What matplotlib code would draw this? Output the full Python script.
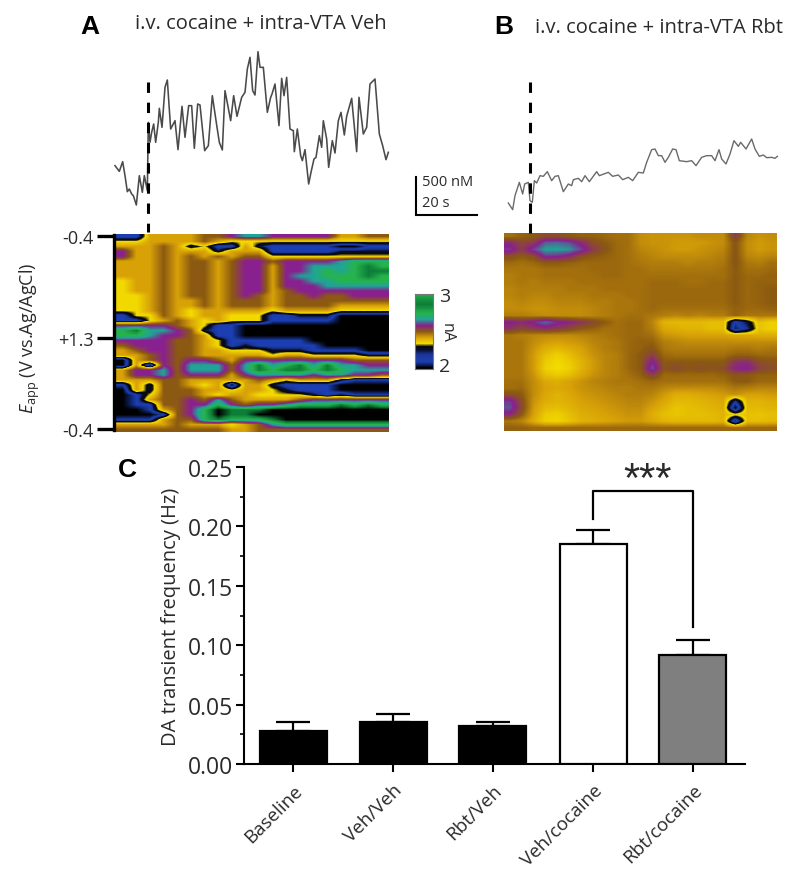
import numpy as np
import matplotlib
matplotlib.use("Agg")
import matplotlib.pyplot as plt
from matplotlib.colors import LinearSegmentedColormap

plt.rcParams['font.family'] = ['Open Sans', 'DejaVu Sans']
plt.rcParams['mathtext.fontset'] = 'custom'
plt.rcParams['mathtext.rm'] = 'Open Sans'
plt.rcParams['mathtext.it'] = 'Open Sans:italic'

W, H = 800, 878
TEXT = '#2a2a2a'

# ---------- bar panel ----------
categories = ['Baseline', 'Veh/Veh', 'Rbt/Veh', 'Veh/cocaine', 'Rbt/cocaine']
means = [0.028, 0.035, 0.032, 0.185, 0.092]
sems = [0.007, 0.007, 0.003, 0.012, 0.012]
bar_colors = ['black', 'black', 'black', 'white', '#7f7f7f']
y_ticks = [0.00, 0.05, 0.10, 0.15, 0.20, 0.25]

# ---------- voltammetric current traces (time, concentration readings) ----------
trace_a_x = [165,178,188,195,202,208,215,220,229,238,247,253,262,265,270,275,281,287,295,298,306,315,322,332,345,354,366,375,386,395,403,413,420,434,445,457,470,478,487,495,512,521,531,545,555,562,570,578,585,594,600,610,622,632,636,645,657,665,672,680,690,700,703,712,722,727,735,746,753,762,768,778,785,790,800,806,817,825,835,843,853,860,875,890,897,910,920,930,945,958,968,978,985]
trace_a_y = [500,517,488,530,578,570,585,590,618,530,580,530,575,370,430,400,375,430,370,328,385,265,243,390,365,452,322,415,320,320,448,315,318,455,440,290,378,430,453,275,365,290,352,295,280,210,175,275,288,158,205,205,340,295,285,255,380,238,290,235,390,395,458,390,470,485,452,555,520,480,475,410,445,365,420,505,425,462,365,340,408,352,298,458,295,405,385,255,240,405,440,482,460]
trace_b_x = [55,68,75,88,98,104,115,120,127,133,140,150,160,172,185,195,205,220,235,245,250,265,275,285,298,320,328,355,368,385,398,415,428,445,460,470,485,495,505,515,525,535,548,558,568,590,605,618,635,650,665,675,687,695,708,720,732,745,752,768,785,795,808,820,830,845,855,862]
trace_b_y = [432,452,410,370,405,375,370,425,430,365,372,350,352,338,365,352,350,398,375,380,362,358,368,350,368,338,350,340,352,348,362,355,365,340,342,310,272,270,290,290,310,295,270,272,305,308,305,320,295,290,290,305,272,300,315,285,245,262,250,270,240,270,292,288,296,295,298,292]

# ---------- colour plots, levels on the colour scale ----------
heat_a = [
 [1,1,4,4,4,4,5,5,6,7,7,6,6,6,6,6,4,4,5,5],
 [3,3,4,4,4,4,5,4,3,3,3,3,3,3,3,3,3,3,3,3],
 [4,4,4,5,4,2,3,1,1,4,2,1,1,1,1,1,0,0,1,1],
 [6,4,4,5,4,4,4,2,4,4,4,1,1,1,1,1,2,2,2,2],
 [6,4,4,5,4,5,4,5,4,5,5,3,3,3,3,3,3,3,3,3],
 [4,4,4,5,4,5,5,4,5,6,6,5,6,6,6,6,7,8,8,8],
 [4,4,4,5,4,5,5,4,5,6,6,4,6,6,7,7,7,8,9,8],
 [4,4,4,5,4,5,5,4,5,6,6,4,6,6,7,8,7,8,9,9],
 [4,4,4,5,4,5,5,4,5,6,6,4,6,7,7,8,8,8,9,8],
 [3,4,4,5,4,5,5,4,5,6,6,4,6,6,7,7,8,8,8,8],
 [3,4,4,5,4,5,5,4,5,6,6,4,6,6,6,7,7,7,7,7],
 [3,4,4,5,4,5,5,4,5,6,6,4,5,6,6,6,6,6,6,6],
 [3,3,4,5,4,5,5,4,5,6,5,4,5,5,6,5,5,6,6,6],
 [3,3,4,5,4,4,5,4,5,5,5,4,5,5,5,5,5,5,5,5],
 [3,3,4,5,4,4,5,4,5,5,5,4,5,5,5,5,4,4,4,4],
 [3,3,4,5,4,3,4,4,4,4,4,3,4,4,4,4,3,3,3,3],
 [1,3,3,5,4,3,4,4,3,3,3,1,1,2,2,2,0,0,0,0],
 [1,1,3,4,5,4,3,4,3,3,3,1,1,1,1,1,0,0,0,0],
 [6,6,6,6,5,4,3,1,1,0,0,0,0,0,0,0,0,0,0,0],
 [8,9,7,7,6,5,2,1,1,0,0,0,0,0,0,0,0,0,0,0],
 [8,8,7,6,6,5,4,1,1,0,0,0,0,0,0,0,0,0,0,0],
 [6,6,6,6,5,5,4,3,1,1,1,1,1,1,0,0,0,0,0,0],
 [5,6,6,6,5,5,4,3,1,2,1,1,1,1,1,0,0,0,0,0],
 [4,5,6,6,5,5,4,4,3,3,3,2,2,2,1,1,1,1,0,0],
 [4,4,5,6,5,5,4,4,4,4,4,3,4,4,3,3,3,3,2,2],
 [0,4,5,6,5,6,6,5,4,6,6,6,6,6,6,6,6,5,5,5],
 [0,4,0,6,5,7,7,7,5,7,9,7,8,9,7,9,7,7,6,6],
 [4,6,6,7,5,7,7,7,5,7,9,8,9,9,8,9,8,7,7,7],
 [4,6,6,7,5,6,6,6,4,6,7,7,7,7,6,7,7,6,6,5],
 [4,4,4,5,5,4,4,4,4,4,5,4,3,4,4,4,2,1,1,1],
 [1,4,2,5,5,4,3,4,0,4,4,2,1,1,1,1,0,0,0,0],
 [0,4,2,5,5,5,4,4,3,4,4,3,2,1,1,1,0,0,0,0],
 [0,1,3,5,5,5,4,3,4,4,3,3,3,3,2,1,2,1,1,1],
 [0,1,4,5,5,6,5,7,5,4,4,4,4,5,6,6,6,6,6,6],
 [0,1,1,5,5,6,6,8,6,5,6,6,7,8,8,8,9,8,9,8],
 [0,0,1,4,5,6,8,10,9,9,9,10,10,10,10,10,10,10,10,10],
 [0,0,0,1,5,6,8,10,9,9,10,10,10,10,10,10,10,10,10,10],
 [1,1,1,4,5,5,8,9,8,8,8,9,10,10,10,10,10,10,10,10],
 [4,4,4,4,5,4,4,4,3,4,5,7,8,8,8,8,8,8,8,8],
 [5,5,5,5,5,5,5,5,4,4,5,5,5,5,5,5,5,5,5,5],
]
heat_b = [
 [4.7,4.9,5,5.2,5.2,5.0,4.9,4.9,4.8,4.7,4.7,4.3,4.2,4.2,4.2,4.2,4.3,4.3,4.3,5.5,4.4,4.2,4.3],
 [5.8,5.3,5.5,6.5,6.6,6.4,5.8,5.2,5,4.8,4.7,4.3,4.2,4.2,4.1,4.1,4.1,4.2,4.3,5.1,4.3,4.1,4.2],
 [6.2,5.5,6.3,7,7,6.9,6.3,5.5,5.1,4.8,4.7,4.4,4.3,4.2,4.1,4.1,4.2,4.3,4.4,5.1,4.3,4.1,4.2],
 [5.2,5,5.2,6.2,6.1,5.8,5.2,5,4.9,4.8,4.7,4.5,4.4,4.3,4.3,4.3,4.3,4.4,4.5,5.1,4.4,4.3,4.4],
 [4.8,4.7,4.8,5,5,4.9,4.8,4.8,4.8,4.8,4.7,4.6,4.5,4.5,4.5,4.4,4.5,4.5,4.6,5.1,4.6,4.5,4.7],
 [4.6,4.6,4.6,4.7,4.7,4.7,4.7,4.8,4.8,4.8,4.7,4.7,4.6,4.6,4.6,4.6,4.6,4.6,4.7,5,4.7,4.7,4.8],
 [4.5,4.6,4.6,4.7,4.7,4.7,4.7,4.7,4.8,4.8,4.7,4.7,4.7,4.7,4.7,4.7,4.7,4.7,4.7,5,4.8,4.8,4.9],
 [4.5,4.6,4.5,4.6,4.6,4.6,4.7,4.7,4.7,4.7,4.7,4.7,4.8,4.8,4.8,4.7,4.7,4.8,4.8,5,4.8,4.9,4.9],
 [4.4,4.5,4.5,4.5,4.5,4.6,4.6,4.6,4.7,4.7,4.7,4.7,4.8,4.8,4.8,4.8,4.8,4.8,4.8,5,4.8,4.9,5],
 [4.4,4.5,4.4,4.4,4.5,4.5,4.5,4.6,4.6,4.6,4.7,4.7,4.8,4.8,4.8,4.8,4.8,4.8,4.8,5,4.8,4.9,5],
 [4.3,4.4,4.3,4.3,4.4,4.4,4.4,4.5,4.5,4.6,4.6,4.7,4.8,4.8,4.8,4.8,4.8,4.8,4.8,5,4.8,4.9,5],
 [4.3,4.3,4.2,4.2,4.3,4.3,4.3,4.4,4.5,4.6,4.6,4.7,4.8,4.7,4.7,4.7,4.7,4.7,4.7,4.9,4.8,4.8,4.9],
 [4.5,4.5,4.4,4.3,4.3,4.3,4.3,4.4,4.5,4.6,4.7,4.7,4.6,4.5,4.4,4.5,4.4,4.5,4.5,4.9,4.6,4.6,4.6],
 [6,5.8,6.1,6.6,6.1,5.9,5.6,5.3,5,4.7,4.8,4.8,4.4,3.7,3.6,3.6,3.6,3.5,3.5,1,2,3.5,3.2],
 [5.6,5.3,5.5,5.7,5.5,5.3,5,4.9,4.7,4.7,4.8,4.8,4.5,3.9,3.8,3.7,3.7,3.5,3.5,0.5,1.5,3.4,3.2],
 [4.6,4.5,4.4,4.3,4.3,4.3,4.4,4.5,4.6,4.7,4.8,4.8,4.7,4.2,4.1,4,4,4,4,3.9,3.9,3.8,3.8],
 [4.6,4.6,4.3,4.1,4,4.1,4.2,4.4,4.5,4.6,4.8,4.9,4.9,4.5,4.4,4.3,4.3,4.3,4.3,4.3,4.3,4.3,4.3],
 [4.6,4.6,4.2,3.8,3.6,3.8,4,4.3,4.5,4.6,4.8,4.9,5.1,4.6,4.5,4.5,4.5,4.5,4.5,4.6,4.6,4.5,4.6],
 [4.6,4.6,4.1,3.5,3.2,3.5,3.9,4.2,4.4,4.5,4.8,5,5.4,4.8,4.7,4.7,4.7,4.7,4.7,4.9,4.9,4.8,4.8],
 [4.6,4.6,4.1,3.3,3.05,3.3,3.7,4.1,4.4,4.5,4.8,5,6,5,5,5,5,5,5,5.6,5.7,5.2,5.1],
 [4.6,4.6,4.1,3.2,3,3.2,3.7,4.1,4.4,4.5,4.8,5,6.4,5.1,5.3,5.1,5.2,5.1,5.2,5.9,6.1,5.4,5.2],
 [4.6,4.6,4.2,3.5,3.3,3.5,3.9,4.2,4.4,4.5,4.7,4.9,5.4,4.8,4.8,4.8,4.8,4.8,4.9,5.1,5,4.9,4.9],
 [4.7,4.7,4.3,3.9,3.8,4,4.2,4.4,4.5,4.6,4.6,4.7,4.8,4.7,4.7,4.7,4.7,4.7,4.7,5,5,4.8,4.8],
 [4.7,4.8,4.3,4,3.9,4,4.2,4.3,4.4,4.5,4.5,4.6,4.6,4.4,4.3,4.3,4.3,4.3,4.4,4.6,4.5,4.4,4.4],
 [5.2,5,4.3,3.9,3.7,3.9,4.1,4.2,4.3,4.4,4.5,4.5,4.4,4.1,3.8,3.8,3.9,4,4.1,4.2,4,4,4.1],
 [6.2,5.2,4.2,3.8,3.7,3.8,4,4.1,4.2,4.3,4.4,4.4,4.2,3.9,3.6,3.6,3.7,3.8,3.9,1.5,3.7,3.7,3.8],
 [6.4,5.3,4.1,3.6,3.5,3.7,3.9,4,4.1,4.2,4.3,4.3,4,3.7,3.4,3.5,3.6,3.7,3.8,0,3.6,3.6,3.7],
 [5.8,5,4,3.3,3.2,3.5,3.8,3.9,4,4.1,4.2,4.2,3.8,3.5,3.4,3.5,3.5,3.6,3.7,3.2,3.5,3.4,3.5],
 [4.6,4.4,3.8,3.2,3.1,3.4,3.7,3.8,3.9,4,4.1,4.1,3.9,3.7,3.6,3.6,3.6,3.6,3.7,0.5,3.5,3.5,3.6],
 [4.9,4.9,4.8,4.8,4.8,4.8,4.8,4.8,4.8,4.8,4.8,4.8,4.8,4.8,4.8,4.8,4.8,4.8,4.8,4.8,4.8,4.8,4.8],
]
colorbar_levels = [8.2,8.5,8.8,9,8.7,8.3,8,7.5,7,6.5,6,5.5,5,4.5,4,3.5,3,2.5,2,1.7,1.4,1.2,1,0.6,0]

level_colors = [
    (0.0, '#000000'), (0.10, '#1c3fb4'), (0.15, '#1b3597'), (0.20, '#070c28'),
    (0.25, '#0a0a08'), (0.30, '#f4dc00'), (0.40, '#d8a208'), (0.50, '#8c5a10'),
    (0.60, '#8a1f90'), (0.70, '#1fa596'), (0.80, '#27b44e'), (0.90, '#0d7f38'),
    (1.0, '#000000')]
fscv = LinearSegmentedColormap.from_list('fscv', level_colors, N=512)

fig = plt.figure(figsize=(W / 100, H / 100), dpi=100, facecolor='white')


def px_axes(x0, y0, x1, y1, **kw):
    return fig.add_axes([x0 / W, 1 - y1 / H, (x1 - x0) / W, (y1 - y0) / H], **kw)


# overlay in figure pixels for the annotation layer
ov = px_axes(0, 0, W, H)
ov.set_xlim(0, W)
ov.set_ylim(H, 0)
ov.axis('off')
ov.set_zorder(5)

# ---------- titles and panel letters ----------
ov.text(261, 24, 'i.v. cocaine + intra-VTA Veh', ha='center', va='center', fontsize=14.5, color=TEXT)
ov.text(659, 28, 'i.v. cocaine + intra-VTA Rbt', ha='center', va='center', fontsize=14.5, color=TEXT)
for label, lx, ly in [('A', 90, 27), ('B', 504, 27), ('C', 127, 470)]:
    ov.text(lx, ly, label, ha='center', va='center', fontsize=19, fontweight='bold',
            family='Liberation Sans', color='black')


# ---------- traces ----------
def draw_trace(xs, ys, x_org, y_org, box, lw, color):
    t = (np.array(xs) - 165) / 9.3          # seconds
    c = (650 - np.array(ys)) * 4.4          # nM
    ax = px_axes(*box)
    ax.plot(t, c, color=color, lw=lw, solid_joinstyle='round')
    ax.set_xlim((3 * (box[0] - x_org) - 165) / 9.3, (3 * (box[2] - x_org) - 165) / 9.3)
    ax.set_ylim((650 - 3 * (box[3] - y_org)) * 4.4, (650 - 3 * (box[1] - y_org)) * 4.4)
    ax.axis('off')
    ax.patch.set_alpha(0)


draw_trace(trace_a_x, trace_a_y, 60, 0, (110, 40, 395, 225), 1.15, '#4a4a4a')
draw_trace(trace_b_x, trace_b_y, 490, 60, (500, 100, 785, 225), 1.0, '#6a6a6a')

# dashed injection markers
for dx, dy1 in [(147.5, 233), (529.5, 234)]:
    ov.plot([dx, dx], [83, dy1], color='black', lw=2.2, linestyle=(0, (3.4, 3.2)),
            dash_capstyle='butt')

# scale bar
ov.plot([415.5, 415.5, 477], [178, 216, 216], color='black', lw=1.5, solid_joinstyle='miter')
ov.text(422, 183, '500 nM', ha='left', va='center', fontsize=10.5, color=TEXT)
ov.text(422, 204, '20 s', ha='left', va='center', fontsize=10.5, color=TEXT)

# ---------- colour plot A ----------
ax_a = px_axes(116, 235, 389, 433)
ax_a.imshow(np.array(heat_a, dtype=float), cmap=fscv, vmin=0, vmax=10, aspect='auto',
            interpolation='bilinear', extent=(0, 88, 198, 0))
ax_a.set_xticks([])
for s in ['top', 'right', 'bottom']:
    ax_a.spines[s].set_visible(False)
ax_a.spines['left'].set_position(('outward', 1.2))
ax_a.spines['left'].set_linewidth(2.4)
ax_a.spines['left'].set_bounds(1, 196)
ax_a.set_yticks([2, 104, 195])
ax_a.set_yticklabels(['-0.4', '+1.3', '-0.4'], fontsize=13, color=TEXT)
ax_a.tick_params(axis='y', length=12, width=2.4, pad=3)

# ---------- colour plot B ----------
ax_b = px_axes(504, 234, 777, 432)
ax_b.imshow(np.array(heat_b, dtype=float), cmap=fscv, vmin=0, vmax=10, aspect='auto',
            interpolation='bilinear', extent=(0, 88, 198, 0))
ax_b.axis('off')

ov.text(30, 338, r'$\mathit{E}_{\mathrm{app}}$ (V vs.Ag/AgCl)', rotation=90, ha='center', va='center',
        fontsize=13, color=TEXT)

# ---------- colour bar ----------
ax_c = px_axes(415, 295, 433, 370)
ax_c.imshow(np.array(colorbar_levels)[:, None], cmap=fscv, vmin=0, vmax=10, aspect='auto',
            interpolation='bilinear')
ax_c.set_xticks([])
ax_c.set_yticks([])
for s in ax_c.spines.values():
    s.set_color('#777777')
    s.set_linewidth(0.8)
ov.text(445, 297, '3', ha='center', va='center', fontsize=14, color=TEXT)
ov.text(445, 367, '2', ha='center', va='center', fontsize=14, color=TEXT)
ov.text(447, 333, 'nA', rotation=-90, ha='center', va='center', fontsize=11.5, color=TEXT)

# ---------- bar chart ----------
ax = px_axes(244, 468, 745, 765)
positions = np.arange(len(categories))
for i in positions:
    ax.errorbar(i, means[i], yerr=[[0], [sems[i]]], color='black', lw=1.6, capsize=12.5,
                capthick=1.6, zorder=2, fmt='none')
ax.bar(positions, means, width=0.67, color=bar_colors, edgecolor='black', linewidth=1.6, zorder=3)
ax.set_xlim(-0.49, 4.52)
ax.set_ylim(0, 0.25)
for s in ['top', 'right']:
    ax.spines[s].set_visible(False)
for s in ['left', 'bottom']:
    ax.spines[s].set_linewidth(1.5)
ax.set_yticks(y_ticks)
ax.set_yticklabels([f'{v:.2f}' for v in y_ticks], fontsize=16.5, color=TEXT)
ax.set_yticks(np.arange(0.025, 0.25, 0.05), minor=True)
ax.tick_params(axis='y', which='major', length=6, width=1.5, pad=2)
ax.tick_params(axis='y', which='minor', length=3, width=1.2)
ax.set_xticks(positions)
ax.set_xticklabels(categories, rotation=45, ha='right', rotation_mode='anchor', fontsize=13.5, color=TEXT)
ax.tick_params(axis='x', length=6, width=1.5, pad=6)
ax.set_ylabel('DA transient frequency (Hz)', fontsize=14.5, color=TEXT, labelpad=5)

# significance bracket
ax.plot([3, 3, 4, 4], [0.206, 0.23, 0.23, 0.115], color='black', lw=1.6, solid_joinstyle='round')
ov.text(648, 481, '***', ha='center', va='center', fontsize=30, family='Liberation Sans', color=TEXT)

fig.savefig('out.png', dpi=100)
